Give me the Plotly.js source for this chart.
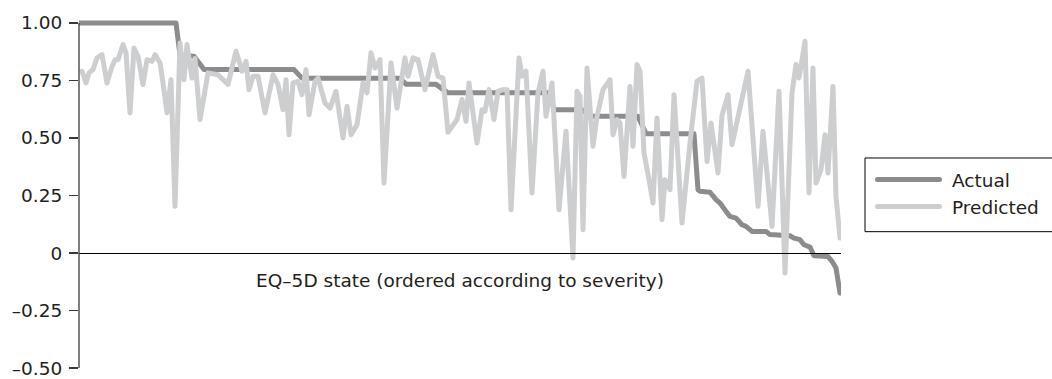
<!DOCTYPE html>
<html>
<head>
<meta charset="utf-8">
<script src="https://cdn.plot.ly/plotly-3.0.1.min.js"></script>
<style>
  html, body { margin: 0; padding: 0; background: #fff; }
  #chart { width: 1052px; height: 379px; }
  .scatterlayer .js-line { stroke-linejoin: round; stroke-linecap: round; }
  .legend .js-line { stroke-linecap: round; }
</style>
</head>
<body>
<div id="chart"></div>
<script>
// EQ-5D states ranked by severity (rank position along the x axis)
const actualRank = [0, 48, 50, 57, 62, 107, 111, 160, 163, 178, 184, 235, 237, 251, 255, 279, 283, 307,
  309, 310, 315, 318, 320, 323, 325, 328, 331, 333, 336, 343, 345, 355, 357, 360, 362, 365, 367, 374, 376, 378, 380];
// Observed utility for each state
const actualValue = [1.00, 1.00, 0.86, 0.855, 0.797, 0.797, 0.76, 0.76, 0.733, 0.733, 0.696, 0.696, 0.623, 0.623,
  0.594, 0.594, 0.518, 0.518, 0.275, 0.268, 0.264, 0.232, 0.217, 0.181, 0.159, 0.152, 0.123, 0.116, 0.094, 0.094,
  0.08, 0.075, 0.065, 0.058, 0.036, 0.026, -0.012, -0.015, -0.036, -0.065, -0.174];

// Model predictions for the same ranking
const predictedRank = [1, 3, 4.5, 6.5, 8.5, 11, 13.5, 16, 17.5, 19, 21.5, 23, 25, 27, 29, 31.5, 33.5, 36, 37.5,
  40, 41.5, 43.5, 45.5, 47.5, 50, 52, 53.5, 56, 57.5, 60, 64, 69, 74, 78, 81, 83, 84.5, 86.5, 89, 92.5, 96.5, 99,
  101.5, 103, 104.5, 106.5, 109, 111, 113, 114.5, 117.5, 119, 122.5, 125, 128, 131.5, 133.5, 135.5, 138.5, 141.5,
  143.5, 145.5, 147.5, 150, 152, 155.5, 158.5, 162.5, 164, 166.5, 169, 172.5, 176.5, 179, 181.5, 184, 188.5, 191,
  193, 194.5, 198.5, 201, 202.5, 204.5, 207, 209, 211.5, 213.5, 215.5, 219.5, 221, 223, 226, 229, 231.5, 233,
  236, 239.5, 243, 246.5, 248.5, 250, 251.5, 253.5, 256.5, 258.5, 261.5, 265, 266.5, 268.5, 270, 272, 275, 276.5,
  278.5, 280, 282, 284.5, 286.5, 288.5, 291, 292.5, 295, 297, 301, 305, 308.5, 311, 313.5, 315.5, 319, 321, 324,
  326, 334, 339, 341.5, 346, 349.5, 352.5, 356, 358, 359.5, 362.5, 364.5, 366.5, 368, 370.5, 372.5, 374, 376.5,
  378, 380];
const predictedValue = [0.79, 0.739, 0.783, 0.797, 0.848, 0.862, 0.739, 0.811, 0.84, 0.84, 0.906, 0.87, 0.609,
  0.891, 0.855, 0.732, 0.84, 0.833, 0.862, 0.826, 0.739, 0.61, 0.753, 0.203, 0.913, 0.753, 0.906, 0.76, 0.845,
  0.58, 0.783, 0.775, 0.733, 0.877, 0.79, 0.833, 0.71, 0.768, 0.768, 0.609, 0.775, 0.733, 0.623, 0.753, 0.514,
  0.739, 0.746, 0.688, 0.797, 0.601, 0.746, 0.76, 0.652, 0.63, 0.703, 0.5, 0.638, 0.514, 0.558, 0.739, 0.696,
  0.87, 0.804, 0.84, 0.304, 0.826, 0.63, 0.848, 0.768, 0.848, 0.84, 0.71, 0.862, 0.768, 0.76, 0.525, 0.58, 0.667,
  0.572, 0.739, 0.478, 0.623, 0.616, 0.71, 0.58, 0.703, 0.71, 0.71, 0.188, 0.848, 0.768, 0.79, 0.261, 0.696,
  0.79, 0.594, 0.739, 0.188, 0.529, -0.022, 0.703, 0.681, 0.101, 0.804, 0.464, 0.594, 0.71, 0.753, 0.514, 0.58,
  0.565, 0.333, 0.724, 0.464, 0.819, 0.79, 0.435, 0.319, 0.217, 0.587, 0.145, 0.319, 0.275, 0.688, 0.13, 0.478,
  0.746, 0.76, 0.398, 0.565, 0.348, 0.598, 0.688, 0.471, 0.79, 0.203, 0.529, 0.116, 0.703, -0.087, 0.696, 0.819,
  0.761, 0.92, 0.261, 0.804, 0.304, 0.362, 0.514, 0.348, 0.724, 0.246, 0.065];

const yTickValues = [1.00, 0.75, 0.50, 0.25, 0, -0.25, -0.50];
const yTickLabels = ['1.00', '0.75', '0.50', '0.25', '0', '–0.25', '–0.50'];
const xTitle = 'EQ–5D state (ordered according to severity)';

const yMin = -0.53, yMax = 1.03;
const textColor = '#231f20';
const axisColor = '#3a3a3a';
const fontFamily = 'DejaVu Sans, Arial, sans-serif';

const traces = [
  {
    name: 'Actual',
    x: actualRank,
    y: actualValue,
    type: 'scatter',
    mode: 'lines',
    line: { color: '#8c8c8e', width: 5, simplify: false },
    hoverinfo: 'skip'
  },
  {
    name: 'Predicted',
    x: predictedRank,
    y: predictedValue,
    type: 'scatter',
    mode: 'lines',
    line: { color: '#cdced0', width: 5, simplify: false },
    hoverinfo: 'skip'
  }
];

const layout = {
  width: 1052,
  height: 379,
  margin: { l: 79, r: 211, t: 16, b: 4, pad: 0 },
  paper_bgcolor: '#ffffff',
  plot_bgcolor: '#ffffff',
  font: { family: fontFamily, size: 18.5, color: textColor },
  showlegend: true,
  legend: {
    x: 1.0315, xanchor: 'left',
    y: 0.596, yanchor: 'top',
    borderwidth: 0,
    bgcolor: 'rgba(0,0,0,0)',
    itemwidth: 77,
    font: { family: fontFamily, size: 18.5, color: textColor },
    traceorder: 'normal'
  },
  xaxis: {
    range: [-0.5, 380.5],
    anchor: 'free',
    position: (0 - yMin) / (yMax - yMin),
    showline: true, linecolor: '#000000', linewidth: 1,
    showticklabels: false, ticks: '',
    showgrid: false, zeroline: false,
    title: { text: xTitle, standoff: 21, font: { size: 18.5, color: textColor } },
    automargin: false,
    fixedrange: true
  },
  yaxis: {
    range: [yMin, yMax],
    tickmode: 'array',
    tickvals: yTickValues,
    ticktext: yTickLabels,
    ticks: 'outside', ticklen: 9, tickwidth: 1.3, tickcolor: axisColor,
    ticklabelstandoff: 3,
    showline: false, showgrid: false, zeroline: false,
    automargin: false,
    fixedrange: true
  },
  shapes: [
    // vertical value axis, spanning the labelled range only
    {
      type: 'line', xref: 'paper', yref: 'y',
      x0: 0, x1: 0, y0: -0.5, y1: 1.0,
      line: { color: axisColor, width: 1.3 }
    },
    // legend frame, open on the right where it runs off the page
    {
      type: 'rect', xref: 'paper', yref: 'paper', layer: 'below',
      x0: 1.0315, x1: 1.40, y0: 0.3992, y1: 0.6045,
      line: { color: '#000000', width: 1 },
      fillcolor: 'rgba(0,0,0,0)'
    }
  ]
};

Plotly.newPlot('chart', traces, layout, { staticPlot: true, displayModeBar: false }).then(function (gd) {
  // lengthen the legend swatches, keeping them centred on their slot
  gd.querySelectorAll('.legend .legendlines path.js-line').forEach(function (p) {
    const m = /M\s*([-\d.]+)[ ,]+([-\d.]+)\s*h\s*([-\d.]+)/.exec(p.getAttribute('d') || '');
    if (!m) return;
    const x0 = parseFloat(m[1]), y0 = parseFloat(m[2]), len = parseFloat(m[3]);
    const mid = x0 + len / 2, half = 31;
    p.setAttribute('d', 'M' + (mid - half) + ',' + y0 + 'h' + (2 * half));
  });
});
</script>
</body>
</html>
